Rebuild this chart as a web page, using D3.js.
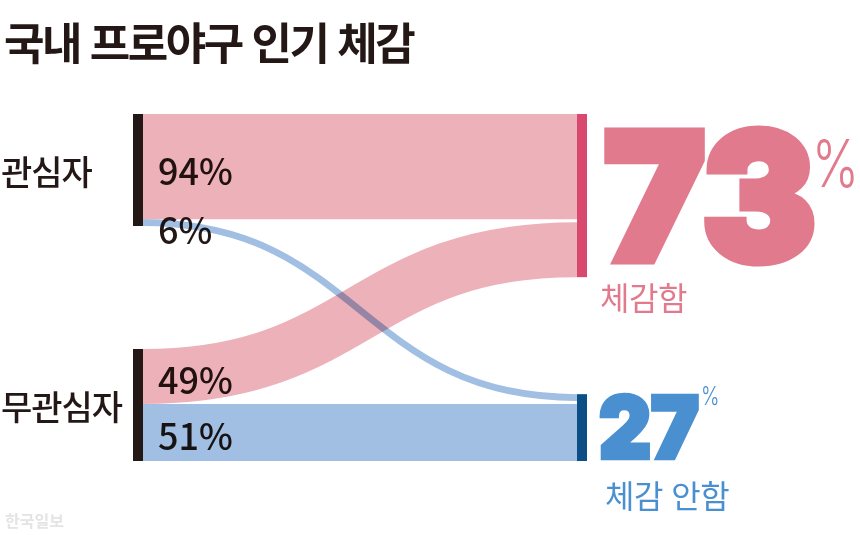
<!DOCTYPE html>
<html lang="ko">
<head>
<meta charset="utf-8">
<script src="https://cdn.jsdelivr.net/npm/d3@7"></script>
<style>
  html, body { margin: 0; padding: 0; background: #fff; }
  svg { display: block; font-family: "Noto Sans CJK KR", "Noto Sans", sans-serif; }
</style>
</head>
<body>
<svg id="chart" width="860" height="535"></svg>
<script>
//DATA ---------------------------------------------------------------------------------
const title = '국내 프로야구 인기 체감';
const sources = ['관심자', '무관심자'];
const targets = ['체감함', '체감 안함'];
// share (%) of each source group going to each target
const shares = [
    [94, 6],
    [49, 51]
];
const targetTotals = [73, 27];
const credit = '한국일보';

//SET UP -------------------------------------------------------------------------------
const svg = d3.select('#chart');
const ink = '#231815';
const linkColors = ['#edb2b9', '#a1bee3'];
const nodeColors = ['#d9496f', '#0c4f86'];
const numColors = ['#e17a8d', '#4a90d1'];

const xLeft = 143, xRight = 577, barW = 10;
const sourceTops = [114, 349];
const gap = 3;

// pixels per percent point
const h = d3.scaleLinear().domain([0, 100]).range([0, 112]);

//LAYOUT ------------------------------------------------------------------------------
const links = [];
const sourceNodes = sources.map((name, i) => {
    let y = sourceTops[i];
    shares[i].forEach((v, j) => {
        const w = h(v);
        links.push({ source: i, target: j, value: v, width: w, y0: y + w / 2 });
        y += w;
    });
    return { name, y0: sourceTops[i], y1: y };
});

const targetNodes = targets.map((name, j) => {
    const inc = links.filter(l => l.target === j);
    const height = d3.sum(inc, l => l.width) + gap * (inc.length - 1);
    return { name, height, inc, total: targetTotals[j] };
});
// top target lines up with the first group, bottom target with the last one
targetNodes[0].y0 = sourceNodes[0].y0;
targetNodes[1].y0 = sourceNodes[1].y1 - targetNodes[1].height;
targetNodes.forEach(n => {
    n.y1 = n.y0 + n.height;
    let y = n.y0;
    n.inc.forEach(l => {
        l.y1 = y + l.width / 2;
        y += l.width + gap;
    });
});

//TITLE -------------------------------------------------------------------------------
svg.append('text')
    .attr('x', 4)
    .attr('y', 41)
    .attr('dominant-baseline', 'central')
    .attr('font-size', 44)
    .attr('font-weight', 700)
    .attr('letter-spacing', -2.5)
    .attr('fill', ink)
    .text(title);

//LINKS -------------------------------------------------------------------------------
const linkPath = d3.linkHorizontal()
    .source(d => [xLeft, d.y0])
    .target(d => [xRight, d.y1]);

svg.append('g')
    .selectAll('path')
    .data(links.slice().sort((a, b) => a.target - b.target))
    .join('path')
    .attr('d', linkPath)
    .attr('fill', 'none')
    .attr('stroke', d => linkColors[d.target])
    .attr('stroke-width', d => d.width)
    .style('mix-blend-mode', 'multiply');

// percent labels inside the links
svg.append('g')
    .selectAll('text')
    .data(links)
    .join('text')
    .attr('x', xLeft + 15)
    .attr('y', d => d.y0 + (d.width < 20 ? 5 : 2))
    .attr('dominant-baseline', 'central')
    .attr('font-size', 36)
    .attr('font-weight', 500)
    .attr('fill', ink)
    .style('mix-blend-mode', 'multiply')
    .text(d => `${d.value}%`);

//SOURCE NODES ------------------------------------------------------------------------
svg.append('g')
    .selectAll('rect')
    .data(sourceNodes)
    .join('rect')
    .attr('x', xLeft - barW)
    .attr('y', d => d.y0)
    .attr('width', barW)
    .attr('height', d => d.y1 - d.y0)
    .attr('fill', ink);

svg.append('g')
    .selectAll('text')
    .data(sourceNodes)
    .join('text')
    .attr('x', 1)
    .attr('y', d => (d.y0 + d.y1) / 2)
    .attr('dominant-baseline', 'central')
    .attr('font-size', 34)
    .attr('font-weight', 500)
    .attr('letter-spacing', -1)
    .attr('fill', ink)
    .text(d => d.name);

//TARGET NODES ------------------------------------------------------------------------
svg.append('g')
    .selectAll('rect')
    .data(targetNodes)
    .join('rect')
    .attr('x', xRight)
    .attr('y', d => d.y0)
    .attr('width', barW)
    .attr('height', d => d.y1 - d.y0)
    .attr('fill', (d, j) => nodeColors[j]);

// big totals, centred on each node; a stroke makes the digits extra heavy
const bigSize = [176, 85];
const bigStroke = [9, 4.5];
const bigWidth = [212, 100];
const bigDx = [17, 12];
const pctSize = [66, 26];
const pctX = [812, 701];
const pctDy = [55, 8];
const subDx = [-4, 6];

targetNodes.forEach((n, j) => {
    const cap = bigSize[j] * 0.727;
    const mid = (n.y0 + n.y1) / 2;
    const x = xRight + barW + bigDx[j];
    const top = mid - cap / 2;
    const g = svg.append('g').attr('fill', numColors[j]);

    g.append('text')
        .attr('x', x)
        .attr('y', top + cap)
        .attr('font-family', 'Inter, Lato, Roboto, sans-serif')
        .attr('font-size', bigSize[j])
        .attr('font-weight', 900)
        .attr('stroke', numColors[j])
        .attr('stroke-width', bigStroke[j])
        .attr('stroke-linejoin', 'miter')
        .attr('textLength', bigWidth[j])
        .attr('lengthAdjust', 'spacingAndGlyphs')
        .text(n.total);

    g.append('text')
        .attr('transform', `translate(${pctX[j]},${top + pctDy[j]}) scale(0.76,1)`)
        .attr('font-family', 'Inter, Lato, sans-serif')
        .attr('font-size', pctSize[j])
        .attr('font-weight', 300)
        .text('%');

    g.append('text')
        .attr('x', x + subDx[j])
        .attr('y', top + cap + 36)
        .attr('dominant-baseline', 'central')
        .attr('font-size', 32)
        .attr('font-weight', 400)
        .attr('letter-spacing', -0.5)
        .text(n.name);
});

//CREDIT ------------------------------------------------------------------------------
svg.append('text')
    .attr('x', 5)
    .attr('y', 520)
    .attr('dominant-baseline', 'central')
    .attr('font-size', 16)
    .attr('font-weight', 700)
    .attr('fill', '#e4e4e4')
    .text(credit);
</script>
</body>
</html>
